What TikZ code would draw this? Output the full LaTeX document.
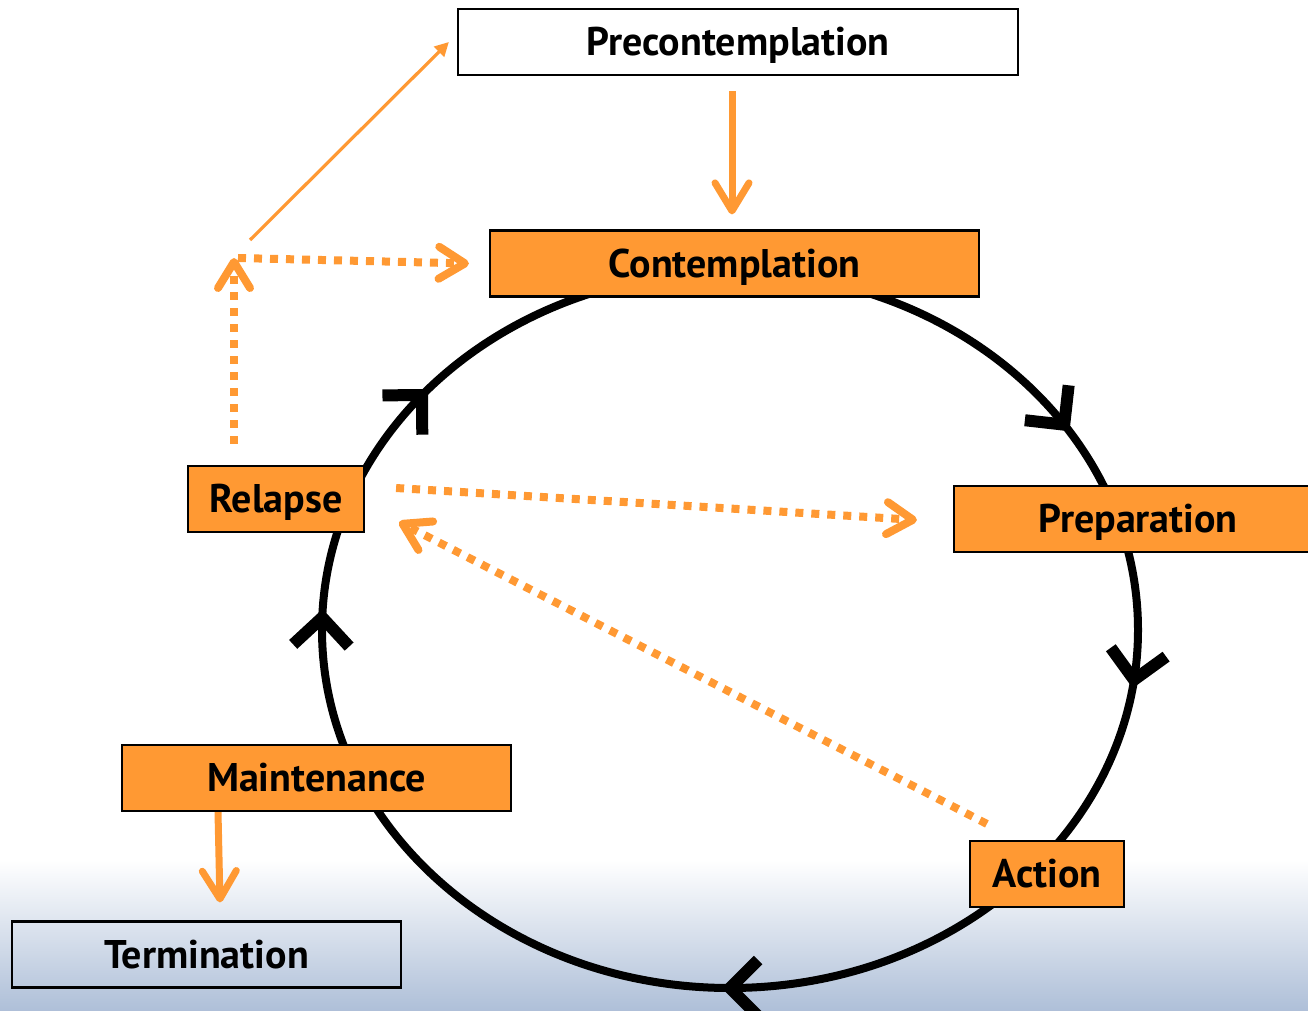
\documentclass[tikz,border=0pt]{standalone}
\usepackage{fontspec}
\setmainfont{PT Sans}
\usetikzlibrary{arrows.meta,decorations.markings,calc}
\definecolor{orng}{HTML}{FF9933}
\definecolor{bgblue}{HTML}{AEBFD8}
\begin{document}
\begin{tikzpicture}[x=1pt,y=-1pt,
  stage/.style={draw=black, line width=2.2pt, fill=orng, minimum height=66pt, inner sep=0pt,
    font=\fontsize{40}{46}\selectfont\bfseries, text height=30pt, text depth=3pt},
  plainstage/.style={stage, fill=white},
  openstage/.style={stage, fill=none},
  solidarrow/.style={draw=orng, line width=7pt, -{Straight Barb[length=28pt,width=34pt,round]}},
  thinarrow/.style={draw=orng, line width=3.2pt, -{Triangle[length=14pt,width=14pt]}},
  dotarrow/.style={draw=orng, line width=8pt, dash pattern=on 8pt off 8pt, -{Straight Barb[length=26pt,width=32pt,round]}},
  cyclemark/.style={decorate, decoration={markings, mark=at position 0 with {\draw[line width=12pt, black, miter limit=4] (-28pt,-28pt) -- (0pt,0pt) -- (-28pt,28pt);}}}
]
\fill[white] (0,0) rectangle (1308,1011);
\shade[top color=white, bottom color=bgblue] (0,860) rectangle (1308,1011);
\useasboundingbox (0,0) rectangle (1308,1011);

% cycle
\draw[line width=8pt] (730,630) ellipse [x radius=408, y radius=358];
\foreach \t in {325, 8, 90, 182, 221} {
  \path[cyclemark] (730,630) ++(\t:408 and 358) arc[start angle=\t, end angle=\t+3, x radius=408, y radius=358];
}

% stages
\node[plainstage, minimum width=560pt] (pre) at (738,42) {Precontemplation};
\node[stage, minimum width=489pt] (cont) at (734.5,263.5) {Contemplation};
\node[stage, minimum width=368pt] (prep) at (1138,519) {Preparation};
\node[stage, minimum width=154pt] (act) at (1047,874) {Action};
\node[stage, minimum width=389pt] (maint) at (316.5,778) {Maintenance};
\node[stage, minimum width=176pt] (rel) at (276,499) {Relapse};
\node[openstage, minimum width=389pt] (term) at (206.5,954.5) {Termination};

% orange connectors
\draw[solidarrow] ($(pre.south)+(-6,15)$) -- ($(cont.north)+(-2.5,-15)$);
\draw[solidarrow] ($(maint.south)+(-98.5,0)$) -- ($(term.north)+(13.5,-18)$);

\coordinate (r0) at (250,240);
\draw[thinarrow] (r0) -- ($(pre.west)+(-8,0)$);

\coordinate (corner) at (234,258);
\draw[dotarrow] ($(rel.north)+(-42,-21)$) -- (corner);
\draw[dotarrow] ($(corner)+(4,0)$) -- ($(cont.west)+(-20,0)$);
\draw[dotarrow] ($(rel.east)+(31,-11)$) -- ($(prep.west)+(-36,1)$);
\draw[dotarrow] ($(act.north west)+(18,-16)$) -- ($(rel.east)+(34,23)$);
\end{tikzpicture}
\end{document}
